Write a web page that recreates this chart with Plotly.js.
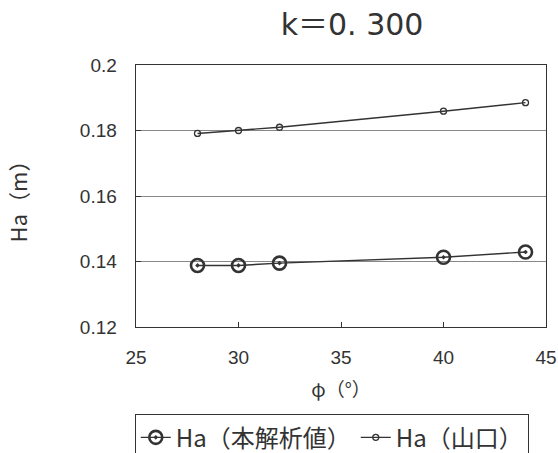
<!DOCTYPE html>
<html>
<head>
<meta charset="utf-8">
<script src="https://cdn.plot.ly/plotly-3.0.1.min.js"></script>
<style>
  html, body { margin: 0; padding: 0; background: #fff; }
  #chart { width: 558px; height: 453px; }
</style>
</head>
<body>
<div id="chart"></div>
<script>
// Friction angle φ (degrees)
const phi = [28, 30, 32, 40, 44];
// Ha from the present analysis (本解析値)
const haAnalysis = [0.1388, 0.1388, 0.1395, 0.1413, 0.1429];
// Ha after Yamaguchi (山口)
const haYamaguchi = [0.1791, 0.1800, 0.1810, 0.1859, 0.1885];

const xTicks = [25, 30, 35, 40, 45];
const yTicks = [0.12, 0.14, 0.16, 0.18, 0.2];
const yTickText = ['0.12', '0.14', '0.16', '0.18', '0.2'];

const ink = '#333';
const jpFont = '"Noto Sans CJK JP", "Noto Sans", sans-serif';
const numFont = '"Liberation Sans", Arial, sans-serif';

const traces = [
  {
    x: phi, y: haAnalysis, name: 'Ha（本解析値）',
    type: 'scatter', mode: 'lines+markers',
    line: { color: ink, width: 1.4 },
    marker: { symbol: 'circle-dot', size: 13, color: 'rgba(0,0,0,0)',
              line: { color: ink, width: 2.6 } }
  },
  {
    x: phi, y: haYamaguchi, name: 'Ha（山口）',
    type: 'scatter', mode: 'lines+markers',
    line: { color: ink, width: 1.4 },
    marker: { symbol: 'circle-open', size: 6, color: ink,
              line: { color: ink, width: 1.3 } }
  }
];

const layout = {
  width: 558, height: 453,
  margin: { l: 136, r: 12, t: 65, b: 126, autoexpand: false },
  paper_bgcolor: '#fff', plot_bgcolor: '#fff',
  font: { family: numFont, color: ink, size: 18 },
  title: {
    text: 'k＝0. 300',
    font: { family: '"DejaVu Sans", ' + jpFont, size: 30, color: ink },
    x: 0.527, xref: 'paper', xanchor: 'center',
    y: 0.945, yanchor: 'middle'
  },
  xaxis: {
    range: [25, 45], tickvals: xTicks, ticktext: xTicks.map(String),
    ticks: 'inside', ticklen: 5, tickcolor: ink, tickwidth: 1,
    showline: true, mirror: true, linecolor: ink, linewidth: 1.4,
    showgrid: false, zeroline: false,
    tickfont: { family: numFont, size: 19, color: ink },
    ticklabelstandoff: 13,
    title: { text: 'φ（°）', font: { family: jpFont, size: 19, color: ink }, standoff: 16 }
  },
  yaxis: {
    range: [0.12, 0.2], tickvals: yTicks, ticktext: yTickText,
    ticks: 'inside', ticklen: 5, tickcolor: ink, tickwidth: 1,
    showline: true, mirror: true, linecolor: ink, linewidth: 1.4,
    showgrid: true, gridcolor: '#888', gridwidth: 1, zeroline: false,
    tickfont: { family: numFont, size: 19, color: ink },
    ticklabelstandoff: 14,
    title: { text: 'Ha（m）', font: { family: jpFont, size: 22, color: ink }, standoff: 46 }
  },
  showlegend: true,
  legend: {
    orientation: 'h', x: -0.003, xanchor: 'left', y: -0.333, yanchor: 'top',
    font: { family: jpFont, size: 24, color: ink },
    bordercolor: ink, borderwidth: 1, bgcolor: '#fff',
    itemwidth: 30, tracegroupgap: 0
  }
};

Plotly.newPlot('chart', traces, layout, { displayModeBar: false, staticPlot: true });
</script>
</body>
</html>
